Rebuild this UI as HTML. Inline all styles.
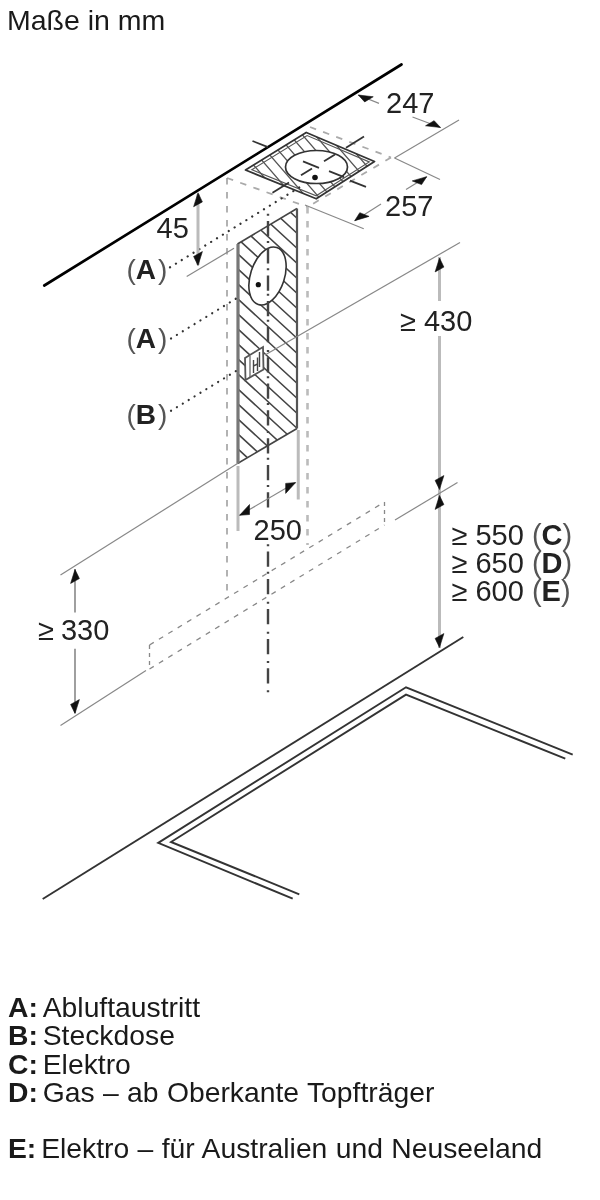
<!DOCTYPE html>
<html><head><meta charset="utf-8">
<style>
html,body{margin:0;padding:0;background:#fff;width:600px;height:1200px;overflow:hidden}
body{position:relative;font-family:"Liberation Sans",sans-serif;color:#1a1a1a}
.t{position:absolute;white-space:nowrap;line-height:1;will-change:transform}
svg{position:absolute;left:0;top:0;will-change:transform}
text{fill:#222}
.r{margin-left:-3.5px}
</style></head><body>
<svg width="600" height="1200" viewBox="0 0 600 1200" font-family="Liberation Sans, sans-serif" fill="#222"><line x1="44.3" y1="285.5" x2="401.5" y2="64.5" stroke="#000" stroke-width="2.7" stroke-linecap="round"/>
<line x1="227" y1="178" x2="307.5" y2="207" stroke="#aaa" stroke-width="1.8" stroke-dasharray="6.5 7.5"/>
<line x1="310" y1="127" x2="391" y2="157.5" stroke="#aaa" stroke-width="1.8" stroke-dasharray="6.5 7.5"/>
<line x1="391" y1="157.5" x2="307.5" y2="207" stroke="#aaa" stroke-width="1.8" stroke-dasharray="6.5 7.5"/>
<line x1="227" y1="178" x2="227" y2="598" stroke="#999" stroke-width="1.5" stroke-dasharray="6.5 7.5"/>
<line x1="307.5" y1="207" x2="307.5" y2="545" stroke="#bbb" stroke-width="2.6" stroke-dasharray="6.5 7.5"/>
<defs><clipPath id="plateclip"><path d="M245.50,170.00 L306.25,132.50 L374.50,161.50 L316.25,198.75 Z"/></clipPath><mask id="platemask"><rect width="600" height="1200" fill="#fff"/><ellipse cx="316.5" cy="167" rx="31" ry="16.5" fill="#000"/></mask></defs>
<g clip-path="url(#plateclip)" mask="url(#platemask)"><path d="M77.0,120 L155.0,210 M89.5,120 L167.5,210 M102.0,120 L180.0,210 M114.5,120 L192.5,210 M127.0,120 L205.0,210 M139.5,120 L217.5,210 M152.0,120 L230.0,210 M164.5,120 L242.5,210 M177.0,120 L255.0,210 M189.5,120 L267.5,210 M202.0,120 L280.0,210 M214.5,120 L292.5,210 M227.0,120 L305.0,210 M239.5,120 L317.5,210 M252.0,120 L330.0,210 M264.5,120 L342.5,210 M277.0,120 L355.0,210 M289.5,120 L367.5,210 M302.0,120 L380.0,210 M314.5,120 L392.5,210 M327.0,120 L405.0,210 M339.5,120 L417.5,210 M352.0,120 L430.0,210 M364.5,120 L442.5,210 M377.0,120 L455.0,210 M389.5,120 L467.5,210 M402.0,120 L480.0,210 M414.5,120 L492.5,210 M427.0,120 L505.0,210 M439.5,120 L517.5,210" stroke="#555" stroke-width="1.3" fill="none"/></g>
<path d="M245.50,170.00 L306.25,132.50 L374.50,161.50 L316.25,198.75 Z" stroke="#333" stroke-width="1.8" fill="none" stroke-linejoin="round"/>
<path d="M251.82,169.69 L307.10,135.56 L369.21,161.95 L316.20,195.85 Z" stroke="#555" stroke-width="1.2" fill="none" />
<ellipse cx="316.5" cy="167" rx="31" ry="16.5" stroke="#333" stroke-width="1.7" fill="none"/>
<line x1="252.5" y1="141" x2="268" y2="147.2" stroke="#333" stroke-width="1.8" />
<line x1="303" y1="161.4" x2="319" y2="167.8" stroke="#333" stroke-width="1.8" />
<line x1="329" y1="171.2" x2="344" y2="177.2" stroke="#333" stroke-width="1.8" />
<line x1="350" y1="180.6" x2="366" y2="186.8" stroke="#333" stroke-width="1.8" />
<line x1="272.5" y1="192.8" x2="289" y2="182.6" stroke="#333" stroke-width="1.8" />
<line x1="301" y1="175.3" x2="312" y2="168.5" stroke="#333" stroke-width="1.8" />
<line x1="324" y1="161.3" x2="335" y2="154.6" stroke="#333" stroke-width="1.8" />
<line x1="346" y1="147.8" x2="364" y2="136.5" stroke="#333" stroke-width="1.8" />
<circle cx="315" cy="177.5" r="2.8" fill="#111"/>
<defs><clipPath id="panclip"><path d="M237.50,244.00 L297.00,208.50 L297.00,428.50 L237.50,463.50 Z"/></clipPath><mask id="panmask"><rect width="600" height="1200" fill="#fff"/><ellipse cx="267.5" cy="276" rx="17" ry="30" transform="rotate(18 267.5 276)" fill="#000"/><path d="M245,358 L263,347 L263.5,369.5 L245.5,380 Z" fill="#000"/></mask></defs>
<g clip-path="url(#panclip)" mask="url(#panmask)"><path d="M232.5,98.94 L302,162.88 M232.5,113.94 L302,177.88 M232.5,128.94 L302,192.88 M232.5,143.94 L302,207.88 M232.5,158.94 L302,222.88 M232.5,173.94 L302,237.88 M232.5,188.94 L302,252.88 M232.5,203.94 L302,267.88 M232.5,218.94 L302,282.88 M232.5,233.94 L302,297.88 M232.5,248.94 L302,312.88 M232.5,263.94 L302,327.88 M232.5,278.94 L302,342.88 M232.5,293.94 L302,357.88 M232.5,308.94 L302,372.88 M232.5,323.94 L302,387.88 M232.5,338.94 L302,402.88 M232.5,353.94 L302,417.88 M232.5,368.94 L302,432.88 M232.5,383.94 L302,447.88 M232.5,398.94 L302,462.88 M232.5,413.94 L302,477.88 M232.5,428.94 L302,492.88 M232.5,443.94 L302,507.88 M232.5,458.94 L302,522.88 M232.5,473.94 L302,537.88 M232.5,488.94 L302,552.88 M232.5,503.94 L302,567.88 M232.5,518.94 L302,582.88 M232.5,533.94 L302,597.88" stroke="#444" stroke-width="1.6" fill="none"/></g>
<line x1="237.5" y1="244" x2="297" y2="208.5" stroke="#444" stroke-width="1.6" />
<line x1="237.5" y1="463.5" x2="297" y2="428.5" stroke="#444" stroke-width="1.6" />
<line x1="238.0" y1="244" x2="238.0" y2="463.5" stroke="#777" stroke-width="3.2" />
<line x1="297" y1="208.5" x2="297" y2="428.5" stroke="#555" stroke-width="2.2" />
<ellipse cx="267.5" cy="276" rx="17" ry="30" transform="rotate(18 267.5 276)" stroke="#333" stroke-width="1.6" fill="none"/>
<circle cx="258.3" cy="284.7" r="2.6" fill="#111"/>
<path d="M245,358 L263,347 L263.5,369.5 L245.5,380 Z" stroke="#555" stroke-width="1.8" fill="none" />
<path d="M250,356 L250,377" stroke="#666" stroke-width="1.3" fill="none" />
<path d="M253.5,360 L253.5,373 M257.5,357.5 L257.5,371 M253.5,366 L257.5,364 M259.5,352 L259.5,367" stroke="#444" stroke-width="1.4" fill="none" />
<path d="M268,213.7 L268,215.7 M268,221.0 L268,236.2 M268,241.0 L268,243.0 M268,248.3 L268,263.5 M268,268.3 L268,270.3 M268,275.6 L268,290.8 M268,293.7 L268,295.7 M268,301.0 L268,316.2 M268,319.7 L268,321.7 M268,327.0 L268,342.2 M268,350.0 L268,352.0 M268,357.3 L268,372.5 M268,376.3 L268,378.3 M268,383.6 L268,398.8 M268,403.0 L268,405.0 M268,410.3 L268,425.5 M268,431.0 L268,433.0 M268,438.3 L268,453.5 M268,457.7 L268,459.7 M268,465.0 L268,480.2 M268,485.0 L268,487.0 M268,492.3 L268,507.5 M268,514.3 L268,516.3 M268,521.6 L268,536.8 M268,544.3 L268,546.3 M268,551.6 L268,566.8 M268,571.7 L268,573.7 M268,579.0 L268,594.2 M268,601.7 L268,603.7 M268,609.0 L268,624.2 M268,631.7 L268,633.7 M268,639.0 L268,654.2 M268,661.0 L268,663.0 M268,668.3 L268,683.5 M268,690.3 L268,692.3" stroke="#444" stroke-width="2.4" fill="none" />
<line x1="170" y1="267.3" x2="300" y2="187" stroke="#333" stroke-width="2.2" stroke-dasharray="0.1 6.8" stroke-linecap="round"/>
<line x1="171" y1="338.5" x2="237" y2="298" stroke="#333" stroke-width="2.2" stroke-dasharray="0.1 6.8" stroke-linecap="round"/>
<line x1="171" y1="410.8" x2="238" y2="369.8" stroke="#333" stroke-width="2.2" stroke-dasharray="0.1 6.8" stroke-linecap="round"/>
<line x1="198" y1="194" x2="198" y2="265" stroke="#bbb" stroke-width="3" />
<path d="M198.00,192.80 L202.38,201.89 L193.62,206.71 Z" fill="#111" stroke="#111" stroke-width="0.6" stroke-linejoin="round"/>
<path d="M198.00,265.50 L202.38,251.59 L193.62,256.41 Z" fill="#111" stroke="#111" stroke-width="0.6" stroke-linejoin="round"/>
<line x1="186.7" y1="276.5" x2="234" y2="248.3" stroke="#888" stroke-width="1.2" />
<line x1="358.3" y1="95" x2="379" y2="103.4" stroke="#888" stroke-width="1.2" />
<line x1="412.5" y1="117" x2="440.5" y2="127.5" stroke="#888" stroke-width="1.2" />
<path d="M358.30,95.00 L373.24,96.75 L364.67,101.90 Z" fill="#111" stroke="#111" stroke-width="0.6" stroke-linejoin="round"/>
<path d="M440.50,127.50 L434.11,120.66 L425.54,125.80 Z" fill="#111" stroke="#111" stroke-width="0.6" stroke-linejoin="round"/>
<line x1="394.5" y1="158" x2="459" y2="120" stroke="#888" stroke-width="1.2" />
<line x1="394.5" y1="158" x2="440" y2="179.5" stroke="#888" stroke-width="1.2" />
<line x1="426.7" y1="176.7" x2="406" y2="189.5" stroke="#888" stroke-width="1.2" />
<line x1="381" y1="204" x2="354.7" y2="220.7" stroke="#888" stroke-width="1.2" />
<path d="M426.70,176.70 L421.56,184.61 L412.28,180.89 Z" fill="#111" stroke="#111" stroke-width="0.6" stroke-linejoin="round"/>
<path d="M354.70,220.70 L369.05,216.39 L359.77,212.68 Z" fill="#111" stroke="#111" stroke-width="0.6" stroke-linejoin="round"/>
<line x1="305" y1="205" x2="363.75" y2="228.75" stroke="#888" stroke-width="1.2" />
<line x1="439.5" y1="257" x2="439.5" y2="301" stroke="#bbb" stroke-width="3" />
<line x1="439.5" y1="336" x2="439.5" y2="648" stroke="#bbb" stroke-width="3" />
<path d="M439.50,258.00 L443.88,267.09 L435.12,271.91 Z" fill="#111" stroke="#111" stroke-width="0.6" stroke-linejoin="round"/>
<path d="M439.50,489.50 L443.88,475.59 L435.12,480.41 Z" fill="#111" stroke="#111" stroke-width="0.6" stroke-linejoin="round"/>
<path d="M439.50,495.50 L443.88,504.59 L435.12,509.41 Z" fill="#111" stroke="#111" stroke-width="0.6" stroke-linejoin="round"/>
<path d="M439.50,647.50 L443.88,633.59 L435.12,638.41 Z" fill="#111" stroke="#111" stroke-width="0.6" stroke-linejoin="round"/>
<line x1="265" y1="355" x2="460" y2="242.5" stroke="#888" stroke-width="1.2" />
<line x1="395" y1="520" x2="457.5" y2="482.5" stroke="#888" stroke-width="1.2" />
<line x1="238" y1="466" x2="238" y2="531" stroke="#bbb" stroke-width="3" />
<line x1="298.25" y1="430" x2="298.25" y2="499.5" stroke="#bbb" stroke-width="3" />
<line x1="239.6" y1="515.3" x2="295.6" y2="482.6" stroke="#888" stroke-width="1.2" />
<path d="M239.60,515.30 L249.53,514.50 L249.53,504.50 Z" fill="#111" stroke="#111" stroke-width="0.6" stroke-linejoin="round"/>
<path d="M295.60,482.60 L285.67,493.39 L285.67,483.39 Z" fill="#111" stroke="#111" stroke-width="0.6" stroke-linejoin="round"/>
<line x1="75" y1="569" x2="75" y2="612.5" stroke="#888" stroke-width="1.6" />
<line x1="75" y1="648.75" x2="75" y2="713" stroke="#888" stroke-width="1.6" />
<path d="M75.00,569.50 L79.38,578.59 L70.62,583.41 Z" fill="#111" stroke="#111" stroke-width="0.6" stroke-linejoin="round"/>
<path d="M75.00,713.50 L79.38,699.59 L70.62,704.41 Z" fill="#111" stroke="#111" stroke-width="0.6" stroke-linejoin="round"/>
<line x1="60.5" y1="575" x2="237.5" y2="463.5" stroke="#888" stroke-width="1.2" />
<line x1="60.5" y1="725.5" x2="146" y2="670.5" stroke="#888" stroke-width="1.2" />
<line x1="149.5" y1="645" x2="384.5" y2="502" stroke="#888" stroke-width="1.3" stroke-dasharray="5 6"/>
<line x1="149.5" y1="669" x2="384.5" y2="525" stroke="#888" stroke-width="1.3" stroke-dasharray="5 6"/>
<line x1="149.5" y1="645" x2="149.5" y2="669" stroke="#888" stroke-width="1.3" stroke-dasharray="4 4"/>
<line x1="384.5" y1="502" x2="384.5" y2="525" stroke="#888" stroke-width="1.3" stroke-dasharray="4 4"/>
<line x1="42.7" y1="899" x2="463.3" y2="637" stroke="#333" stroke-width="1.9" />
<path d="M292.7,898.7 L158.2,842.9 L406,687.3 L572.7,754.7" stroke="#333" stroke-width="1.9" fill="none" />
<path d="M299.3,894.3 L171,842 L406,694.6 L565.3,758.7" stroke="#333" stroke-width="1.9" fill="none" />
<text x="156.5" y="237.5" font-size="29" text-anchor="start" font-weight="normal" >45</text>
<text x="386" y="112.5" font-size="29" text-anchor="start" font-weight="normal" >247</text>
<text x="385" y="216" font-size="29" text-anchor="start" font-weight="normal" >257</text>
<text x="400" y="330.5" font-size="29" text-anchor="start" font-weight="normal" >≥ 430</text>
<rect x="252" y="511" width="50" height="32" fill="#fff"/>
<text x="253.5" y="539.5" font-size="29" text-anchor="start" font-weight="normal" >250</text>
<text x="38" y="640" font-size="29" text-anchor="start" font-weight="normal" >≥<tspan dx="-1"> 330</tspan></text>
<text x="451.5" y="545" font-size="29" text-anchor="start" font-weight="normal" >≥ 550 <tspan fill="#555">(</tspan><tspan font-weight="bold">C</tspan><tspan fill="#555">)</tspan></text>
<text x="451.5" y="573" font-size="29" text-anchor="start" font-weight="normal" >≥ 650 <tspan fill="#555">(</tspan><tspan font-weight="bold">D</tspan><tspan fill="#555">)</tspan></text>
<text x="451.5" y="600.6" font-size="29" text-anchor="start" font-weight="normal" >≥ 600 <tspan fill="#555">(</tspan><tspan font-weight="bold">E</tspan><tspan fill="#555">)</tspan></text>
<text x="126.5" y="279" font-size="28" text-anchor="start" font-weight="normal" ><tspan fill="#555">(</tspan><tspan font-weight="bold">A</tspan><tspan dx="2" fill="#555">)</tspan></text>
<text x="126.5" y="347.8" font-size="28" text-anchor="start" font-weight="normal" ><tspan fill="#555">(</tspan><tspan font-weight="bold">A</tspan><tspan dx="2" fill="#555">)</tspan></text>
<text x="126.5" y="423.7" font-size="28" text-anchor="start" font-weight="normal" ><tspan fill="#555">(</tspan><tspan font-weight="bold">B</tspan><tspan dx="2" fill="#555">)</tspan></text></svg>
<div class="t" id="title" style="left:7px;top:6px;font-size:28.5px">Maße in mm</div>
<div class="t" id="legend" style="left:8px;top:992.5px;font-size:28.3px;line-height:28.25px;word-spacing:0.5px">
<b>A:</b> <span class="r">Abluftaustritt</span><br><b>B:</b> <span class="r">Steckdose</span><br><b>C:</b> <span class="r">Elektro</span><br><b>D:</b> <span class="r">Gas – ab Oberkante Topfträger</span><br><br><b>E:</b> <span class="r">Elektro – für Australien und Neuseeland</span>
</div>
</body></html>
